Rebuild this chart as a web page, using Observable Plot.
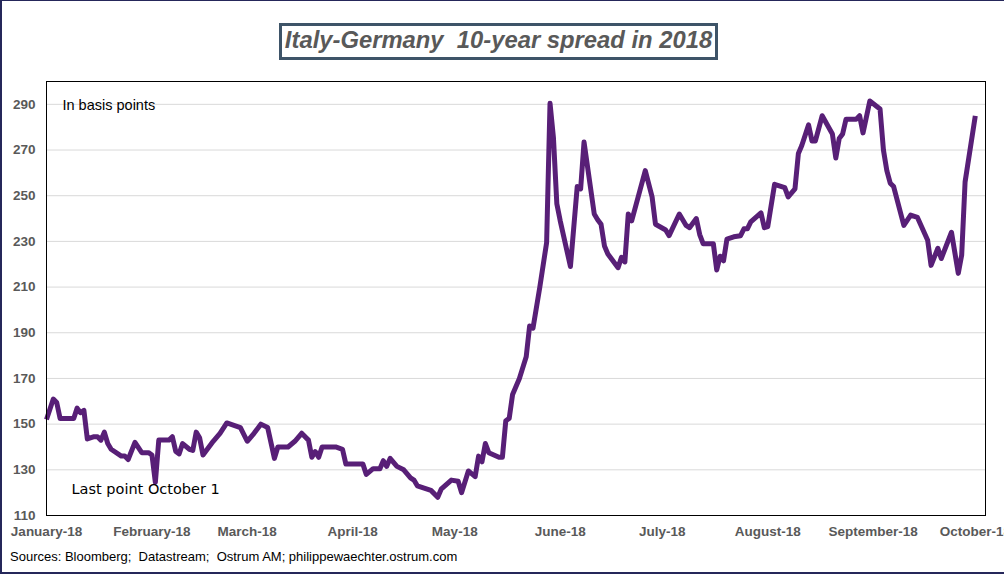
<!DOCTYPE html>
<html>
<head>
<meta charset="utf-8">
<script src="https://cdn.jsdelivr.net/npm/d3@7"></script>
<script src="https://cdn.jsdelivr.net/npm/@observablehq/plot@0.6"></script>
<style>
  html, body { margin: 0; padding: 0; background: #fff; }
  #wrap { position: relative; width: 1004px; height: 574px; overflow: hidden; background: #fff; }
  #chart { position: absolute; left: 0; top: 0; }
  #title {
    position: absolute; left: 279px; top: 23px; width: 439px; height: 37px; box-sizing: border-box;
    border: 3px solid #3E5468; background: #fff;
    display: flex; align-items: center; justify-content: center; padding-bottom: 3px;
    font-family: "Liberation Sans", Arial, sans-serif; font-weight: bold; font-style: italic;
    font-size: 23.8px; color: #595959; white-space: pre;
  }
  #source {
    position: absolute; left: 10px; top: 550px; line-height: 1;
    font-family: "Liberation Sans", Arial, sans-serif; font-size: 13px; color: #000; white-space: pre;
  }
  #border {
    position: absolute; left: 0; top: 0; width: 1004px; height: 574px; box-sizing: border-box;
    border-left: 2px solid #25275A; border-top: 1px solid #25275A; border-bottom: 2px solid #25275A;
    pointer-events: none;
  }
</style>
</head>
<body>
<div id="wrap">
  <div id="chart"></div>
  <div id="title"></div>
  <div id="source"></div>
  <div id="border"></div>
</div>
<script>
const titleText = "Italy-Germany  10-year spread in 2018";
const sourceText = "Sources: Bloomberg;  Datastream;  Ostrum AM; philippewaechter.ostrum.com";
const unitLabel = "In basis points";
const lastPointLabel = "Last point October 1";

const dates = [
  "2018-01-01","2018-01-03","2018-01-04","2018-01-05","2018-01-09","2018-01-10","2018-01-11","2018-01-12","2018-01-13","2018-01-15",
  "2018-01-16","2018-01-17","2018-01-18","2018-01-19","2018-01-20","2018-01-23","2018-01-24","2018-01-25","2018-01-27","2018-01-29",
  "2018-01-31","2018-02-01","2018-02-02","2018-02-03","2018-02-06","2018-02-07","2018-02-08","2018-02-09","2018-02-10","2018-02-12",
  "2018-02-13","2018-02-14","2018-02-15","2018-02-16","2018-02-19","2018-02-21","2018-02-23","2018-02-27","2018-03-01","2018-03-03",
  "2018-03-05","2018-03-07","2018-03-09","2018-03-10","2018-03-13","2018-03-15","2018-03-17","2018-03-19","2018-03-20","2018-03-21",
  "2018-03-22","2018-03-23","2018-03-27","2018-03-29","2018-03-30","2018-04-04","2018-04-05","2018-04-07","2018-04-09","2018-04-10",
  "2018-04-11","2018-04-12","2018-04-14","2018-04-16","2018-04-18","2018-04-19","2018-04-20","2018-04-24","2018-04-26","2018-04-27",
  "2018-04-30","2018-05-02","2018-05-03","2018-05-05","2018-05-07","2018-05-08","2018-05-09","2018-05-10","2018-05-11","2018-05-14",
  "2018-05-15","2018-05-16","2018-05-17","2018-05-18","2018-05-20","2018-05-22","2018-05-23","2018-05-24","2018-05-26","2018-05-28",
  "2018-05-29","2018-05-30","2018-05-31","2018-06-01","2018-06-04","2018-06-06","2018-06-07","2018-06-08","2018-06-11","2018-06-12",
  "2018-06-13","2018-06-14","2018-06-15","2018-06-18","2018-06-19","2018-06-20","2018-06-21","2018-06-22","2018-06-26","2018-06-28",
  "2018-06-29","2018-07-02","2018-07-03","2018-07-06","2018-07-08","2018-07-09","2018-07-11","2018-07-12","2018-07-13","2018-07-16",
  "2018-07-17","2018-07-18","2018-07-19","2018-07-20","2018-07-22","2018-07-24","2018-07-25","2018-07-26","2018-07-27","2018-07-30",
  "2018-07-31","2018-08-01","2018-08-03","2018-08-06","2018-08-07","2018-08-09","2018-08-10","2018-08-11","2018-08-13","2018-08-14",
  "2018-08-15","2018-08-17","2018-08-20","2018-08-21","2018-08-22","2018-08-23","2018-08-24","2018-08-27","2018-08-28","2018-08-29",
  "2018-08-31","2018-09-03","2018-09-04","2018-09-05","2018-09-06","2018-09-07","2018-09-10","2018-09-12","2018-09-14","2018-09-17",
  "2018-09-18","2018-09-20","2018-09-21","2018-09-24","2018-09-26","2018-09-27","2018-09-28","2018-10-01"
];
const spread = [
  152,161,159.5,152.5,152.5,157,155,156,143.5,144.5,
  144.5,143,146.5,141.5,139,136,136,134.5,142,137.5,
  137.5,136.5,124.5,143,143,144.5,138,137,141.5,139,
  138.5,146.5,144,136.5,142.5,146,150.5,148.5,142.5,146,
  150,148.5,135,140,140,142.5,146,143,135.5,138,
  135.5,140,140,139,132.5,132.5,128,130.5,130.5,134,
  131.5,135,131.5,130,126.5,125.5,123,121,118,121.5,
  125.5,125,120,129.5,127,136,133.5,141.5,137.5,135.5,
  135.5,151.5,152.5,163,170,179.5,193,192,210,229.5,
  290.5,275.5,246.5,239,219,254,253,273.5,242,239.5,
  237.5,228,224.5,218.5,223,221,242,239,261,249.5,
  237.5,235,232.5,242,237,236,240,233,229,229,
  217.5,223.5,221.5,231,232,232.5,235.5,235.5,238.5,242.5,
  236,236.5,255,253.5,249.5,253,268.5,272,281,274,
  274,285,277,266.5,275,277,283.5,283.5,285,277.5,
  291.5,288,270,261,255.5,254,237,241.5,240.5,230.5,
  219.5,227,222.5,234,216,224,256,285
];
const yTicks = [110, 130, 150, 170, 190, 210, 230, 250, 270, 290];
const monthTicks = ["2018-01-01","2018-02-01","2018-03-01","2018-04-01","2018-05-01","2018-06-01","2018-07-01","2018-08-01","2018-09-01","2018-10-01"];

const data = dates.map((d, i) => ({date: new Date(d), value: spread[i]}));
const xTicks = monthTicks.map(d => new Date(d));

document.getElementById("title").textContent = titleText;
document.getElementById("source").textContent = sourceText;

const chart = Plot.plot({
  width: 1004,
  height: 574,
  marginLeft: 46,
  marginRight: 19,
  marginTop: 81,
  marginBottom: 59,
  style: {fontFamily: "'Liberation Sans', Arial, sans-serif", fontSize: "13.5px", color: "#595959", background: "transparent", overflow: "visible"},
  x: {type: "utc", domain: [new Date("2018-01-01"), new Date("2018-10-04")], label: null},
  y: {domain: [110, 300], label: null},
  marks: [
    Plot.gridY(yTicks, {stroke: "#d9d9d9", strokeOpacity: 1, strokeWidth: 1}),
    Plot.axisY(yTicks, {tickSize: 0, tickPadding: 11, fontWeight: "bold", fontSize: 13.5, fill: "#595959", label: null}),
    Plot.axisX(xTicks, {tickSize: 0, tickPadding: 11, tickFormat: d3.utcFormat("%B-%y"), fontWeight: "bold", fontSize: 13.5, fill: "#595959", label: null}),
    Plot.line(data, {x: "date", y: "value", stroke: "#581F77", strokeWidth: 5, strokeLinejoin: "round", strokeLinecap: "butt"}),
    Plot.frame({stroke: "#000", strokeWidth: 1}),
    Plot.text([unitLabel], {frameAnchor: "top-left", dx: 16, dy: 18, lineAnchor: "top", textAnchor: "start", fontSize: 14.5, fill: "#000", fontFamily: "'Liberation Sans', Arial, sans-serif"}),
    Plot.text([lastPointLabel], {frameAnchor: "bottom-left", dx: 25, dy: -32, lineAnchor: "top", textAnchor: "start", fontSize: 14.5, fill: "#000", fontFamily: "'DejaVu Sans', Verdana, sans-serif"})
  ]
});
document.getElementById("chart").appendChild(chart);
</script>
</body>
</html>
